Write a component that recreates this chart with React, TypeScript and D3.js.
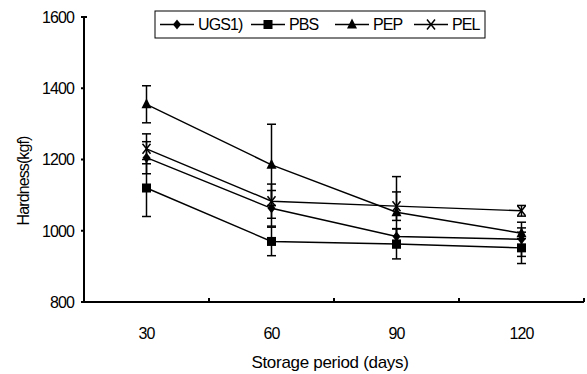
import React, { useEffect, useRef } from "react";
import * as d3 from "d3";

const days = ["30", "60", "90", "120"];
const seriesNames = ["UGS1)", "PBS", "PEP", "PEL"];
const ugs = [1205, 1063, 984, 976];
const ugsErr = [45, 50, 22, 48];
const pbs = [1120, 970, 963, 952];
const pbsErr = [80, 40, 42, 44];
const pep = [1355, 1185, 1052, 993];
const pepErr = [52, 114, 100, 15];
const pel = [1230, 1083, 1069, 1056];
const pelErr = [42, 48, 40, 15];
const yTicks = [800, 1000, 1200, 1400, 1600];

const FONT = "'Liberation Sans', Arial, sans-serif";

const App = () => {
  const svgRef = useRef<SVGSVGElement>(null);

  useEffect(() => {
    const svg = d3.select(svgRef.current);
    svg.selectAll("*").remove();

    const width = 587;
    const height = 374;
    const left = 84;
    const right = 584;
    const top = 17;
    const bottom = 302;

    const x = d3.scaleBand().domain(days).range([left, right]);
    const y = d3.scaleLinear().domain([800, 1600]).range([bottom, top]);

    svg.attr("width", width).attr("height", height);

    // axes
    svg
      .append("line")
      .attr("x1", left)
      .attr("x2", left)
      .attr("y1", top)
      .attr("y2", bottom)
      .attr("stroke", "#000")
      .attr("stroke-width", 2);
    svg
      .append("line")
      .attr("x1", left - 1)
      .attr("x2", right)
      .attr("y1", bottom)
      .attr("y2", bottom)
      .attr("stroke", "#000")
      .attr("stroke-width", 2);

    yTicks.forEach((t) => {
      svg
        .append("line")
        .attr("x1", left - 3)
        .attr("x2", left + (t === 1600 ? 3 : 0))
        .attr("y1", y(t))
        .attr("y2", y(t))
        .attr("stroke", "#000")
        .attr("stroke-width", 2);
      svg
        .append("text")
        .attr("x", left - 10)
        .attr("y", y(t))
        .attr("dy", "0.36em")
        .attr("text-anchor", "end")
        .style("font-family", FONT)
        .style("font-size", "16px")
        .style("letter-spacing", "-0.9px")
        .text(t);
    });

    // band boundary ticks on x axis
    days.forEach((d) => {
      const bx = (x(d) as number) + x.bandwidth();
      svg
        .append("line")
        .attr("x1", bx)
        .attr("x2", bx)
        .attr("y1", bottom)
        .attr("y2", bottom - 4)
        .attr("stroke", "#000")
        .attr("stroke-width", 2);
      svg
        .append("text")
        .attr("x", (x(d) as number) + x.bandwidth() / 2)
        .attr("y", 333)
        .attr("dy", "0.36em")
        .attr("text-anchor", "middle")
        .style("font-family", FONT)
        .style("font-size", "16px")
        .style("letter-spacing", "-0.9px")
        .text(d);
    });

    svg
      .append("text")
      .attr("x", 330)
      .attr("y", 362)
      .attr("dy", "0.36em")
      .attr("text-anchor", "middle")
      .style("font-family", FONT)
      .style("font-size", "17px")
      .style("letter-spacing", "-0.3px")
      .text("Storage period (days)");

    svg
      .append("text")
      .attr("transform", "translate(23,181) rotate(-90)")
      .attr("dy", "0.36em")
      .attr("text-anchor", "middle")
      .style("font-family", FONT)
      .style("font-size", "16px")
      .style("letter-spacing", "-0.9px")
      .text("Hardness(kgf)");

    const cx = (d: string) => (x(d) as number) + x.bandwidth() / 2;

    const series = [
      { name: seriesNames[0], values: ugs, err: ugsErr, sym: "diamond" },
      { name: seriesNames[1], values: pbs, err: pbsErr, sym: "square" },
      { name: seriesNames[2], values: pep, err: pepErr, sym: "triangle" },
      { name: seriesNames[3], values: pel, err: pelErr, sym: "x" },
    ];

    const drawMarker = (g: any, sym: string, px: number, py: number) => {
      if (sym === "diamond") {
        g.append("path")
          .attr("d", `M${px},${py - 5}L${px + 4},${py}L${px},${py + 5}L${px - 4},${py}Z`)
          .attr("fill", "#000");
      } else if (sym === "square") {
        g.append("rect")
          .attr("x", px - 4.5)
          .attr("y", py - 4.5)
          .attr("width", 9)
          .attr("height", 9)
          .attr("fill", "#000");
      } else if (sym === "triangle") {
        g.append("path")
          .attr("d", `M${px},${py - 6}L${px + 5},${py + 4}L${px - 5},${py + 4}Z`)
          .attr("fill", "#000");
      } else {
        g.append("path")
          .attr("d", `M${px - 4},${py - 5}L${px + 4},${py + 5}M${px + 4},${py - 5}L${px - 4},${py + 5}`)
          .attr("stroke", "#000")
          .attr("stroke-width", 1.5)
          .attr("fill", "none");
      }
    };

    const line = d3
      .line<number>()
      .x((_, i) => cx(days[i]))
      .y((v) => y(v));

    const plot = svg.append("g");

    series.forEach((s) => {
      // error bars
      s.values.forEach((v, i) => {
        const px = cx(days[i]);
        const hi = y(v + s.err[i]);
        const lo = y(v - s.err[i]);
        plot
          .append("line")
          .attr("x1", px)
          .attr("x2", px)
          .attr("y1", hi)
          .attr("y2", lo)
          .attr("stroke", "#000")
          .attr("stroke-width", 1.5);
        [hi, lo].forEach((cy) => {
          plot
            .append("line")
            .attr("x1", px - 4.5)
            .attr("x2", px + 4.5)
            .attr("y1", cy)
            .attr("y2", cy)
            .attr("stroke", "#000")
            .attr("stroke-width", 1.5);
        });
      });

      plot
        .append("path")
        .datum(s.values)
        .attr("d", line)
        .attr("fill", "none")
        .attr("stroke", "#000")
        .attr("stroke-width", 1.4);

      s.values.forEach((v, i) => drawMarker(plot, s.sym, cx(days[i]), y(v)));
    });

    // legend
    const legend = svg.append("g");
    legend
      .append("rect")
      .attr("x", 155)
      .attr("y", 11)
      .attr("width", 330)
      .attr("height", 27)
      .attr("fill", "#fff")
      .attr("stroke", "#000")
      .attr("stroke-width", 1);

    const legendX = [160, 251, 335, 414];
    const ly = 24.5;
    series.forEach((s, i) => {
      const lx = legendX[i];
      legend
        .append("line")
        .attr("x1", lx)
        .attr("x2", lx + 34)
        .attr("y1", ly)
        .attr("y2", ly)
        .attr("stroke", "#000")
        .attr("stroke-width", 1.4);
      drawMarker(legend, s.sym, lx + 17, ly);
      legend
        .append("text")
        .attr("x", lx + 38)
        .attr("y", ly)
        .attr("dy", "0.36em")
        .style("font-family", FONT)
        .style("font-size", "16px")
        .style("letter-spacing", "-0.9px")
        .text(s.name);
    });
  }, []);

  return (
    <svg
      ref={svgRef}
      style={{ position: "absolute", left: 0, top: 0, display: "block", background: "#fff" }}
    ></svg>
  );
};

export default App;
